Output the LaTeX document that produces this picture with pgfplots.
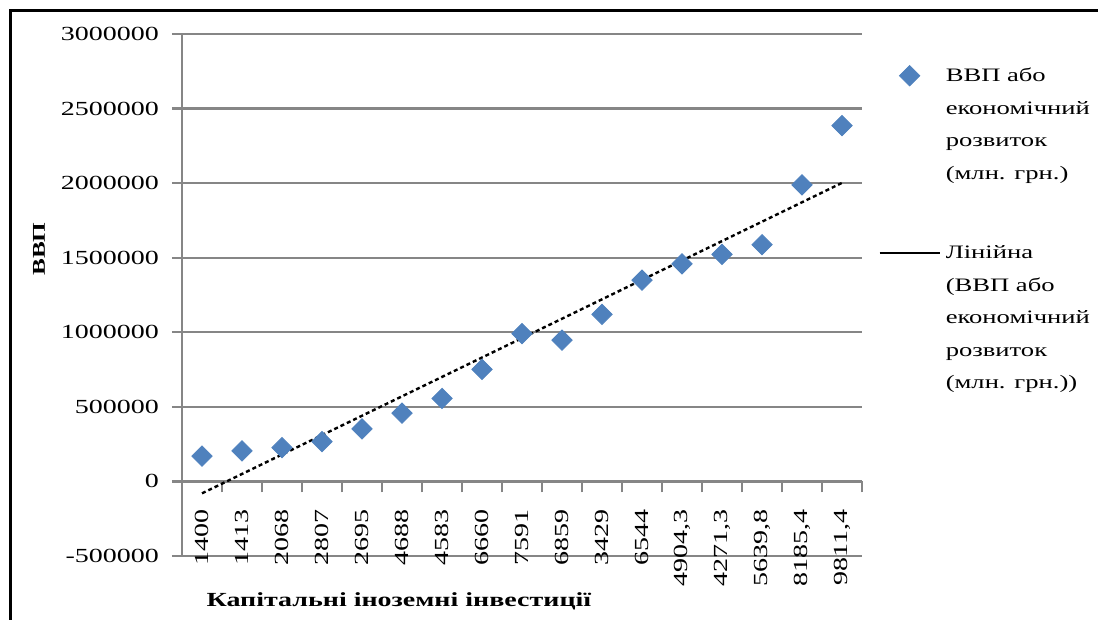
\documentclass[border=0pt]{standalone}
\usepackage{fontspec}
\setmainfont{Liberation Serif}[FakeStretch=1.4]
\usepackage{pgfplots}
\pgfplotsset{compat=1.18}
\usepackage{pgfplotstable}

\definecolor{gdpblue}{HTML}{4F81BD}
\definecolor{gridgray}{HTML}{868686}

% legend sample for the fitted line, centred on the marker column
\pgfplotsset{trendlegend/.style={legend image code/.code={\draw[##1] (-6.5pt,0pt) -- (23.5pt,0pt);}}}

% GDP (mln UAH) against the ordinal of each capital investment category
\pgfplotstableread{
idx gdp
1  170070
2  204190
3  225810
4  267344
5  352000
6  457323
7  556000
8  751106
9  990819
10 947049
11 1120585
12 1349178
13 1459096
14 1522657
15 1586915
16 1988544
17 2385367
}\gdptable

% end points of the least-squares line through the series above
\pgfplotstableread{
idx trend
1  -80058
17 2001711
}\trendtable

\begin{document}
\begin{tikzpicture}
\path[use as bounding box] (0,0) rectangle (549pt,310pt);
\draw[line width=1.5pt] (5pt,0) -- (5pt,304.5pt) -- (549pt,304.5pt);
\begin{axis}[
  at={(91pt,32pt)}, anchor=south west,
  scale only axis, width=340pt, height=261pt,
  xmin=0.5, xmax=17.5, ymin=-500000, ymax=3000000,
  scaled y ticks=false,
  axis x line*=middle, axis y line*=left,
  axis line style={gridgray, line width=1.2pt},
  ytick={-500000,0,500000,1000000,1500000,2000000,2500000,3000000},
  yticklabels={-500000,0,500000,1000000,1500000,2000000,2500000,3000000},
  xtick={1,2,3,4,5,6,7,8,9,10,11,12,13,14,15,16,17},
  xticklabels={1400,1413,2068,2807,2695,4688,4583,6660,7591,6859,3429,6544,{4904,3},{4271,3},{5639,8},{8185,4},{9811,4}},
  minor xtick={1.5,2.5,3.5,4.5,5.5,6.5,7.5,8.5,9.5,10.5,11.5,12.5,13.5,14.5,15.5,16.5,17.5},
  major x tick style={draw=none},
  minor x tick style={gridgray, line width=1.2pt},
  y tick style={gridgray, line width=1.2pt},
  tick align=outside,
  major tick length=5pt, minor tick length=5.5pt,
  ymajorgrids, major grid style={gridgray, line width=1.2pt},
  xticklabel shift=5.5pt,
  xticklabel style={rotate=90, anchor=east, font=\fontsize{10}{12}\selectfont},
  yticklabel shift=3pt,
  yticklabel style={font=\fontsize{10}{12}\selectfont},
  every axis x label/.style={at={(axis description cs:0.319,-0.0862)}, anchor=center, font=\bfseries\fontsize{10}{12}\selectfont},
  every axis y label/.style={at={(axis description cs:-0.2103,0.588)}, rotate=90, anchor=center, font=\bfseries\fontsize{9}{11}\selectfont},
  xlabel={Капітальні іноземні інвестиції},
  ylabel={ВВП},
  legend style={at={(axis description cs:1.0235,0.952)}, anchor=north west,
    draw=none, fill=none, inner sep=0pt, column sep=2.5pt, row sep=0pt,
    font=\fontsize{9.5}{12}\selectfont,
    nodes={inner sep=0pt, text height=11.25pt, text depth=5pt}},
  legend cell align=left,
]
\addplot[only marks, mark=square*, mark size=3.6pt, color=gdpblue,
  mark options={rotate=45, fill=gdpblue, draw=gdpblue}]
  table[x=idx, y=gdp]{\gdptable};
\addlegendentry{ВВП або}
\addlegendimage{empty legend}\addlegendentry{економічний}
\addlegendimage{empty legend}\addlegendentry{розвиток}
\addlegendimage{empty legend}\addlegendentry{(млн. грн.)}
\addlegendimage{empty legend}\addlegendentry[text height=18.5pt]{}
\addlegendimage{black, line width=1.2pt, trendlegend}
\addlegendentry{Лінійна}
\addlegendimage{empty legend}\addlegendentry{(ВВП або}
\addlegendimage{empty legend}\addlegendentry{економічний}
\addlegendimage{empty legend}\addlegendentry{розвиток}
\addlegendimage{empty legend}\addlegendentry{(млн. грн.))}

\addplot[black, line width=1.2pt, dash pattern=on 2pt off 1.5pt, forget plot]
  table[x=idx, y=trend]{\trendtable};
\end{axis}
\end{tikzpicture}
\end{document}
